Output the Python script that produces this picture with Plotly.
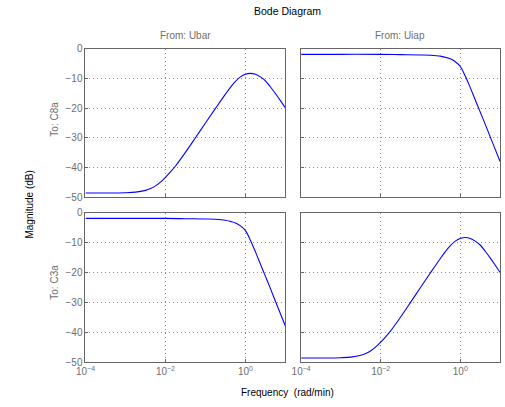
import plotly.graph_objects as go

# Frequency samples (rad/min)
freq_a = [0.0001, 0.000316, 0.001, 0.00178, 0.00316, 0.00422, 0.00562, 0.0075, 0.01,
          0.0133, 0.0178, 0.0316, 0.0562, 0.1, 0.178, 0.316, 0.422, 0.562, 0.75,
          1.0, 1.33, 1.78, 2.37, 3.16, 4.22, 5.62, 7.5, 10.0]
# Magnitude (dB): Ubar -> C8a  and  Uiap -> C3a (same shape)
mag_a = [-48.6, -48.6, -48.5, -48.3, -47.7, -47.1, -46.2, -44.9, -43.3,
         -41.5, -39.5, -34.9, -30.0, -25.0, -20.1, -15.3, -13.0, -11.0, -9.5,
         -8.6, -8.3, -8.6, -9.5, -10.8, -12.9, -15.1, -17.5, -20.0]

freq_b = [0.0001, 0.001, 0.01, 0.0316, 0.1, 0.178, 0.316, 0.422, 0.562, 0.75,
          1.0, 1.33, 1.78, 2.37, 3.16, 4.22, 5.62, 7.5, 10.0]
# Magnitude (dB): Uiap -> C8a  and  Ubar -> C3a (same shape)
mag_b = [-1.9, -1.9, -1.9, -2.0, -2.1, -2.2, -2.5, -2.9, -3.4, -4.4,
         -6.0, -9.2, -13.1, -17.2, -21.3, -25.4, -29.6, -33.8, -38.0]

col_titles = ["From: Ubar", "From: Uiap"]
row_titles = ["To: C8a", "To: C3a"]
y_ticks = [0, -10, -20, -30, -40, -50]
x_tickvals = [1e-4, 1e-2, 1e0]
x_ticktext = ["10<sup>\u22124</sup>", "10<sup>\u22122</sup>", "10<sup>0</sup>"]

W, H = 505, 407
FONT = "Liberation Sans, Arial, Helvetica, sans-serif"
BLUE = "#0000ff"
GRAY_TXT = "#6e6e6e"
FRAME = "#666666"
GRID = "#8a8a8a"

# pixel boxes of the four panels: (left, right, top, bottom)
cols_px = [(77, 281), (297, 500)]
rows_px = [(44, 197), (213, 367)]

panels = [
    (0, 0, freq_a, mag_a),
    (0, 1, freq_b, mag_b),
    (1, 0, freq_b, mag_b),
    (1, 1, freq_a, mag_a),
]

fig = go.Figure()
layout = {}
for i, (r, c, f, m) in enumerate(panels):
    n = "" if i == 0 else str(i + 1)
    fig.add_trace(go.Scatter(
        x=f, y=m, mode="lines",
        line=dict(color=BLUE, width=1.1, shape="spline", smoothing=1.0),
        xaxis="x" + n, yaxis="y" + n, showlegend=False, hoverinfo="skip"))
    l, rr = cols_px[c]
    t, b = rows_px[r]
    layout["xaxis" + n] = dict(
        type="log", range=[-4, 1], domain=[l / W, rr / W], anchor="y" + n,
        showline=True, mirror=True, linecolor=FRAME, linewidth=1,
        showgrid=True, gridcolor=GRID, griddash="1px,3px", gridwidth=1,
        tickvals=x_tickvals, ticktext=x_ticktext, showticklabels=(r == 1),
        ticks="inside", ticklen=3, tickcolor=FRAME,
        tickfont=dict(family=FONT, size=10, color=GRAY_TXT),
        zeroline=False, fixedrange=True)
    layout["yaxis" + n] = dict(
        range=[-50, 0], domain=[1 - b / H, 1 - t / H], anchor="x" + n,
        showline=True, mirror=True, linecolor=FRAME, linewidth=1,
        showgrid=True, gridcolor=GRID, griddash="1px,3px", gridwidth=1,
        tickvals=y_ticks, showticklabels=(c == 0),
        ticks="inside", ticklen=3, tickcolor=FRAME,
        tickfont=dict(family=FONT, size=10, color=GRAY_TXT),
        zeroline=False, fixedrange=True)

annotations = [
    dict(text="Bode Diagram", x=283 / W, y=1 - 5 / H, font=dict(size=10.5, color="#000")),
    dict(text=col_titles[0], x=179 / W, y=1 - 30 / H, font=dict(size=10, color=GRAY_TXT)),
    dict(text=col_titles[1], x=398 / W, y=1 - 30 / H, font=dict(size=10, color=GRAY_TXT)),
    dict(text=row_titles[0], x=45 / W, y=1 - 117 / H, textangle=-90, font=dict(size=10, color=GRAY_TXT)),
    dict(text=row_titles[1], x=45 / W, y=1 - 285 / H, textangle=-90, font=dict(size=10, color=GRAY_TXT)),
    dict(text="Magnitude (dB)", x=20 / W, y=1 - 205 / H, textangle=-90, font=dict(size=10, color="#000")),
    dict(text="Frequency  (rad/min)", x=283 / W, y=1 - 398 / H, font=dict(size=10, color="#000")),
]
for a in annotations:
    a.update(xref="paper", yref="paper", showarrow=False, xanchor="center", yanchor="middle")
    a["font"]["family"] = FONT

fig.update_layout(
    width=W, height=H, margin=dict(l=0, r=0, t=0, b=0),
    paper_bgcolor="white", plot_bgcolor="white",
    annotations=annotations, **layout)

fig.write_html("out.html", config={"displayModeBar": False})
